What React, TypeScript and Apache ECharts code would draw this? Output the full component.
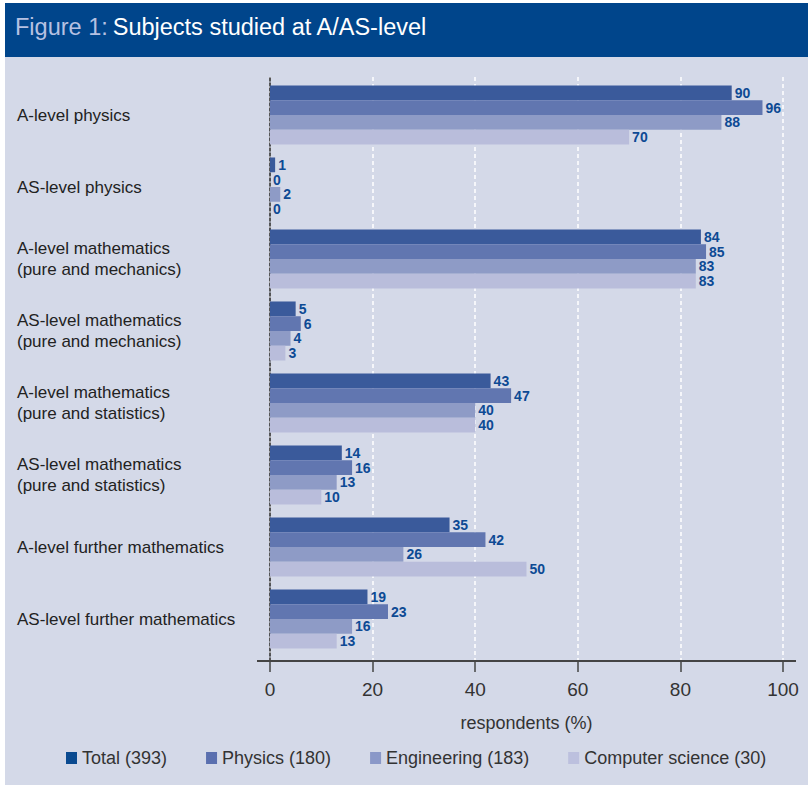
import React, { useEffect, useRef } from "react";
import * as echarts from "echarts";

const categories = [
  "A-level physics",
  "AS-level physics",
  "A-level mathematics\n(pure and mechanics)",
  "AS-level mathematics\n(pure and mechanics)",
  "A-level mathematics\n(pure and statistics)",
  "AS-level mathematics\n(pure and statistics)",
  "A-level further mathematics",
  "AS-level further mathematics",
];
const seriesNames = ["Total (393)", "Physics (180)", "Engineering (183)", "Computer science (30)"];
const totalValues = [90, 1, 84, 5, 43, 14, 35, 19];
const physicsValues = [96, 0, 85, 6, 47, 16, 42, 23];
const engineeringValues = [88, 2, 83, 4, 40, 13, 26, 16];
const csValues = [70, 0, 83, 3, 40, 10, 50, 13];
const xTicks = [0, 20, 40, 60, 80, 100];

const barColors = ["#3A5A9B", "#6176B0", "#8E9BC6", "#B9BDDB"];
const legendColors = ["#0A4A90", "#5A6FAF", "#8A98C8", "#BCC0DE"];
const FONT = "'Liberation Sans', Arial, sans-serif";

export default function App() {
  const ref = useRef<HTMLDivElement>(null);
  useEffect(() => {
    if (!ref.current) return;
    const chart = echarts.init(ref.current, null, { renderer: "svg" });
    const values = [totalValues, physicsValues, engineeringValues, csValues];
    const option: any = {
      animation: false,
      textStyle: { fontFamily: FONT },
      title: {
        left: 10,
        top: 10,
        text: "{a|Figure 1:} {b|Subjects studied at A/AS-level}",
        textStyle: {
          fontWeight: "normal",
          rich: {
            a: { color: "#B6C1E2", fontSize: 23.5, fontWeight: "normal", fontFamily: FONT },
            b: { color: "#FFFFFF", fontSize: 23.5, fontWeight: "normal", fontFamily: FONT },
          },
        },
      },
      graphic: [
        { type: "rect", z: -10, shape: { x: 5, y: 3, width: 803, height: 782 }, style: { fill: "#D4D9E8" } },
        { type: "rect", z: -9, shape: { x: 5, y: 3, width: 803, height: 54 }, style: { fill: "#00458B" } },
        { type: "line", z: 50, shape: { x1: 257, y1: 661, x2: 796, y2: 661 }, style: { stroke: "#444", lineWidth: 2 } },
      ],
      legend: {
        left: 61,
        top: 744,
        itemWidth: 11,
        itemHeight: 12,
        itemGap: 39,
        icon: "rect",
        textStyle: { fontSize: 18, color: "#333", fontFamily: FONT, padding: [0, 0, 0, 0] },
        data: seriesNames.map((n, i) => ({ name: n, itemStyle: { color: legendColors[i] } })),
      },
      grid: [
        { left: 270, width: 513, top: 79, height: 576 },
        { left: 270, width: 513, top: 77, height: 584 },
      ],
      xAxis: [
        { gridIndex: 0, type: "value", min: 0, max: 100, show: false },
        {
          gridIndex: 1,
          type: "value",
          min: 0,
          max: 100,
          interval: 20,
          axisLine: { show: false },
          axisTick: { show: true, length: 11, lineStyle: { color: "#444", width: 1.5 } },
          axisLabel: {
            fontSize: 19,
            color: "#333",
            margin: 19,
            fontFamily: FONT,
            formatter: (v: number) => (xTicks.includes(v) ? String(v) : ""),
          },
          splitLine: { show: true, lineStyle: { color: "#FFFFFF", type: [4, 3], width: 1.5 } },
          name: "respondents (%)",
          nameLocation: "middle",
          nameGap: 53,
          nameTextStyle: { fontSize: 18, color: "#333", fontFamily: FONT },
        },
      ],
      yAxis: [
        {
          gridIndex: 0,
          type: "category",
          inverse: true,
          data: categories,
          axisLine: { show: false },
          axisTick: { show: false },
          axisLabel: {
            align: "left",
            margin: 253,
            fontSize: 17,
            lineHeight: 21,
            color: "#222",
            fontFamily: FONT,
          },
        },
        {
          gridIndex: 1,
          type: "value",
          min: 0,
          max: 1,
          axisLine: { show: true, lineStyle: { color: "#222", type: [3, 2], width: 1.5 } },
          axisTick: { show: false },
          axisLabel: { show: false },
          splitLine: { show: false },
        },
      ],
      series: seriesNames.map((name, i) => ({
        name,
        type: "bar",
        xAxisIndex: 0,
        yAxisIndex: 0,
        data: values[i],
        barGap: "0%",
        barCategoryGap: "18%",
        itemStyle: { color: barColors[i] },
        label: {
          show: true,
          position: "right",
          distance: 3,
          fontSize: 14,
          lineHeight: 13,
          fontWeight: "bold",
          color: "#0D4A94",
          fontFamily: FONT,
        },
        z: 3,
      })),
    };
    chart.setOption(option);
    return () => chart.dispose();
  }, []);
  return (
    <div
      ref={ref}
      style={{ position: "absolute", left: 0, top: 0, width: 808, height: 785, background: "#FFFFFF" }}
    />
  );
}
